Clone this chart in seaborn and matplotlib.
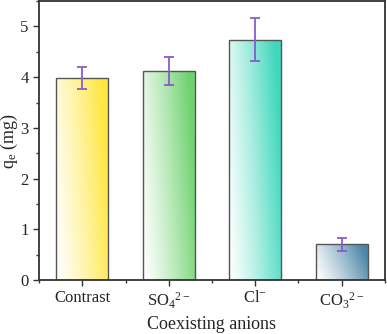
import numpy as np
import pandas as pd
import matplotlib
matplotlib.use("Agg")
import matplotlib.pyplot as plt
import seaborn as sns
from matplotlib.colors import to_rgb
from matplotlib.ticker import MultipleLocator

# data
anions = ["Contrast", "SO$_4$$^{2-}$", "Cl$^{-}$", "CO$_3$$^{2-}$"]
qe = [3.98, 4.12, 4.74, 0.70]
qe_err = [0.22, 0.27, 0.43, 0.12]
bar_colors = ["#FFE640", "#6ED26E", "#40D8BC", "#4C86A8"]

df = pd.DataFrame({"anion": anions, "qe": qe})

sns.set_style("ticks")
plt.rcParams["font.family"] = ["Liberation Serif", "DejaVu Serif"]
plt.rcParams["mathtext.fontset"] = "custom"
plt.rcParams["mathtext.rm"] = "Liberation Serif"
plt.rcParams["mathtext.it"] = "Liberation Serif"

fig = plt.figure(figsize=(3.87, 3.34), dpi=100)
ax = fig.add_axes([0.1008, 0.1617, 0.894, 0.835])

sns.barplot(data=df, x="anion", y="qe", width=0.6, color="white",
            edgecolor="#555555", linewidth=1.0, ax=ax, zorder=2)

# gradient fill: white at bottom-left to colour at right
for patch, col in zip(ax.patches, bar_colors):
    x0, y0 = patch.get_x(), patch.get_y()
    w, h = patch.get_width(), patch.get_height()
    n = 120
    u = np.linspace(0, 1, n)[None, :]
    v = np.linspace(0, 1, n)[:, None]
    t = np.clip(0.85 * u + 0.25 * v, 0, 1) ** 1.2
    rgb = np.array(to_rgb(col))
    img = (1 - t[..., None]) * np.ones(3) + t[..., None] * rgb
    im = ax.imshow(img, extent=[x0, x0 + w, y0, y0 + h], origin="lower",
                   aspect="auto", zorder=1.5, interpolation="bilinear")
    im.set_clip_path(patch)
    patch.set_facecolor("none")

ax.errorbar(range(len(anions)), qe, yerr=qe_err, fmt="none",
            ecolor="#8A5AD0", elinewidth=1.3, capsize=3.5, capthick=1.3, zorder=3)

ax.set_xlim(-0.5, 3.5)
ax.set_ylim(0, 5.5)
ax.yaxis.set_major_locator(MultipleLocator(1))
ax.yaxis.set_minor_locator(MultipleLocator(0.5))
ax.xaxis.set_minor_locator(MultipleLocator(0.5))
ax.set_xticks(range(len(anions)))
ax.set_xticklabels(anions)

for side in ["top", "right", "left", "bottom"]:
    ax.spines[side].set_visible(True)
    ax.spines[side].set_color("#333333")
    ax.spines[side].set_linewidth(1.3)

ax.tick_params(axis="both", which="major", direction="out", length=4,
               width=1.0, labelsize=12, color="#333333")
ax.tick_params(axis="both", which="minor", direction="out", length=2.5,
               width=1.0, color="#333333")
ax.tick_params(top=False, right=False, which="both")

ax.set_xlabel("Coexisting anions", fontsize=13)
ax.set_ylabel("q$_e$ (mg)", fontsize=13)
ax.xaxis.set_label_coords(0.5, -0.128)
ax.yaxis.set_label_coords(-0.055, 0.5)

fig.savefig("out.png", dpi=100)
